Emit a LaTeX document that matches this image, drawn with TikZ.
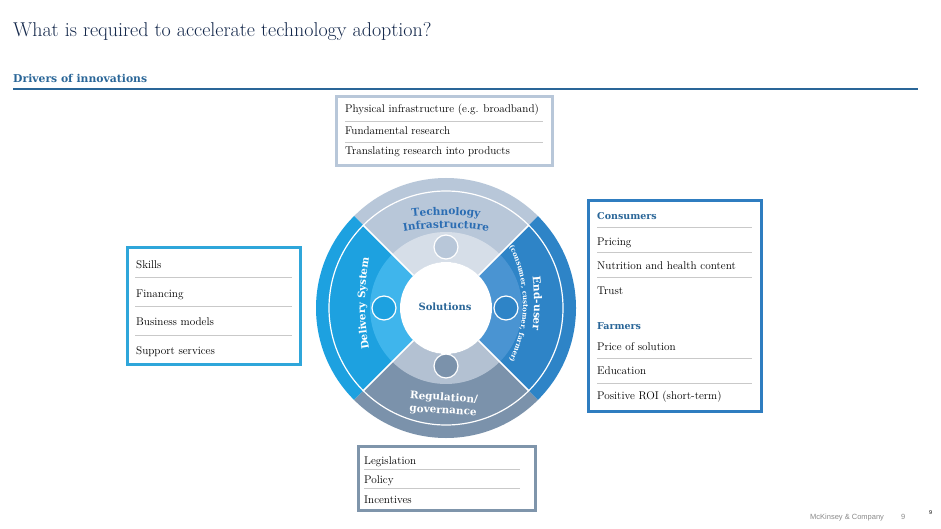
\documentclass[tikz,border=0pt]{standalone}
\usepackage{fontspec}
\newfontfamily\footfont{Liberation Sans}
\newfontfamily\boldserif{DejaVu Serif}
\usetikzlibrary{decorations.text,calc}
\definecolor{titlec}{HTML}{14284B}
\definecolor{headc}{HTML}{2A6698}
\definecolor{topbody}{HTML}{B8C7D9}
\definecolor{topband}{HTML}{D6DEE8}
\definecolor{leftbody}{HTML}{1DA1E0}
\definecolor{leftband}{HTML}{3FB5EC}
\definecolor{rightbody}{HTML}{2E84C7}
\definecolor{rightband}{HTML}{4A94D2}
\definecolor{botbody}{HTML}{7B92AB}
\definecolor{botband}{HTML}{B3C1D2}
\definecolor{techblue}{HTML}{2B6DB3}
\definecolor{sepc}{HTML}{C9C9C9}
\definecolor{leftframe}{HTML}{2FA6DA}
\definecolor{rightframe}{HTML}{2F7DC0}
\definecolor{topframe}{HTML}{B8C7D9}
\definecolor{botframe}{HTML}{7F95AB}
\definecolor{footc}{HTML}{8A8A8A}
\newcommand\wheelwedge[4]{%
  \fill[#3] (C) -- ($(C)+(#1:130)$) arc[start angle=#1, end angle=#2, radius=130] -- cycle;
  \fill[#4] ($(C)+(#1:76)$) arc[start angle=#1, end angle=#2, radius=76] -- ($(C)+(#2:46)$) arc[start angle=#2, end angle=#1, radius=46] -- cycle;
}
\newcommand\bsf[1]{\boldserif\bfseries\fontsize{#1}{#1}\selectfont}
\begin{document}
\begin{tikzpicture}[x=1pt,y=1pt,
  item/.style={anchor=base west, inner sep=0pt, font=\fontsize{11.2}{12}\selectfont, text=black},
  headitem/.style={anchor=base west, inner sep=0pt, font=\bsf{9.5}, text=headc},
  sepline/.style={draw=sepc, line width=0.8pt},
  boxframe/.style={line width=3pt},
  hub/.style={circle, draw=white, line width=1.2pt, minimum size=24pt, inner sep=0pt},
  wheeltext/.style={anchor=center, inner sep=0pt, font=\bsf{10.4}, text=white},
]
\useasboundingbox (0,0) rectangle (941,-529);
\fill[white] (0,0) rectangle (941,-529);

% title and heading
\node[anchor=base west, inner sep=0pt, font=\fontsize{20}{24}\selectfont, text=titlec] (title) at (13,-37) {What is required to accelerate technology adoption?};
\node[anchor=base west, inner sep=0pt, font=\bsf{10.8}, text=headc] (drivers) at (13,-83) {Drivers of innovations};
\coordinate (rulel) at (13,-89);
\coordinate (ruler) at (918,-89);
\draw[headc, line width=1.2pt] (rulel) -- (ruler);

% wheel
\coordinate (C) at (446,-308);
\wheelwedge{45}{135}{topbody}{topband}
\wheelwedge{135}{225}{leftbody}{leftband}
\wheelwedge{225}{315}{botbody}{botband}
\wheelwedge{-45}{45}{rightbody}{rightband}
\fill[white] (C) circle[radius=46];
\draw[white, line width=1.2pt] (C) circle[radius=117];
\foreach \a in {45,135,225,315}{
  \draw[white, line width=1.5pt] ($(C)+(\a:46)$) -- ($(C)+(\a:117)$);
}
\node[hub, fill=topbody] (hubtop) at ($(C)+(90:61)$) {};
\node[hub, fill=leftbody] (hubleft) at ($(C)+(180:62)$) {};
\node[hub, fill=rightbody] (hubright) at ($(C)+(0:60)$) {};
\node[hub, fill=botbody] (hubbot) at ($(C)+(270:58)$) {};
\node[inner sep=0pt, font=\bsf{10}, text=headc] (sol) at (445,-307) {Solutions};

% curved labels
\path[decorate, decoration={text along path, text align=center,
  text={|\bsf{10.6}\color{techblue}|Technology}}]
  ($(446,-515)+(105:300)$) arc[start angle=105, end angle=75, radius=300];
\path[decorate, decoration={text along path, text align=center,
  text={|\bsf{10.6}\color{techblue}|Infrastructure}}]
  ($(446,-488)+(107:260)$) arc[start angle=107, end angle=73, radius=260];
\path[decorate, decoration={text along path, text align=center,
  text={|\bsf{10.2}\color{white}|Delivery System}}]
  ($(615,-303.5)+(197:250)$) arc[start angle=197, end angle=163, radius=250];
\path[decorate, decoration={text along path, text align=center,
  text={|\bsf{10.6}\color{white}|End-user}}]
  ($(284,-303.5)+(17:250)$) arc[start angle=17, end angle=-17, radius=250];
\path[decorate, decoration={text along path, text align=center,
  text={|\bsf{7}\color{white}|(consumer, customer, farmer)}}]
  ($(399,-303.5)+(40:124)$) arc[start angle=40, end angle=-40, radius=124];
\node[wheeltext, rotate=-4] (reg) at (444,-398) {Regulation/};
\node[wheeltext, rotate=-3] (gov) at (443,-412) {governance};

% top box
\draw[topframe, boxframe] (336.5,-96.5) rectangle (552.5,-165.5);
\node[item] (t1) at (345,-113) {Physical infrastructure (e.g. broadband)};
\node[item] (t2) at (345,-135) {Fundamental research};
\node[item] (t3) at (345,-155) {Translating research into products};
\draw[sepline] (345,-121) -- (543,-121);
\draw[sepline] (345,-142) -- (543,-142);

% left box
\draw[leftframe, boxframe] (127.5,-247.5) rectangle (300.5,-364.5);
\node[item] (l1) at (136,-268) {Skills};
\node[item] (l2) at (136,-297) {Financing};
\node[item] (l3) at (136,-325) {Business models};
\node[item] (l4) at (136,-354) {Support services};
\draw[sepline] (135,-277) -- (292,-277);
\draw[sepline] (135,-306) -- (292,-306);
\draw[sepline] (135,-335) -- (292,-335);

% right box
\draw[rightframe, boxframe] (588,-200.5) rectangle (761.5,-411.5);
\node[headitem] (r0) at (597,-220) {Consumers};
\node[item] (r1) at (597,-245) {Pricing};
\node[item] (r2) at (597,-269) {Nutrition and health content};
\node[item] (r3) at (597,-294) {Trust};
\node[headitem] (r4) at (597,-329) {Farmers};
\node[item] (r5) at (597,-350) {Price of solution};
\node[item] (r6) at (597,-374) {Education};
\node[item] (r7) at (597,-399) {Positive ROI (short-term)};
\draw[sepline] (597,-227) -- (752,-227);
\draw[sepline] (597,-252) -- (752,-252);
\draw[sepline] (597,-277) -- (752,-277);
\draw[sepline] (597,-358) -- (752,-358);
\draw[sepline] (597,-383) -- (752,-383);

% bottom box
\draw[botframe, boxframe] (358.5,-446.5) rectangle (535.5,-510.5);
\node[item] (b1) at (364,-464) {Legislation};
\node[item] (b2) at (364,-483) {Policy};
\node[item] (b3) at (364,-503) {Incentives};
\draw[sepline] (364,-469) -- (520,-469);
\draw[sepline] (364,-488) -- (520,-488);

% footer
\node[anchor=base west, inner sep=0pt, font=\footfont\fontsize{7.5}{8}\selectfont, text=footc] (mck) at (810,-519) {McKinsey \& Company};
\node[anchor=base west, inner sep=0pt, font=\footfont\fontsize{7.5}{8}\selectfont, text=footc] (pg) at (901,-519) {9};
\node[anchor=base west, inner sep=0pt, font=\footfont\fontsize{5.5}{6}\selectfont, text=black] (pgb) at (929,-514) {9};
\end{tikzpicture}
\end{document}
